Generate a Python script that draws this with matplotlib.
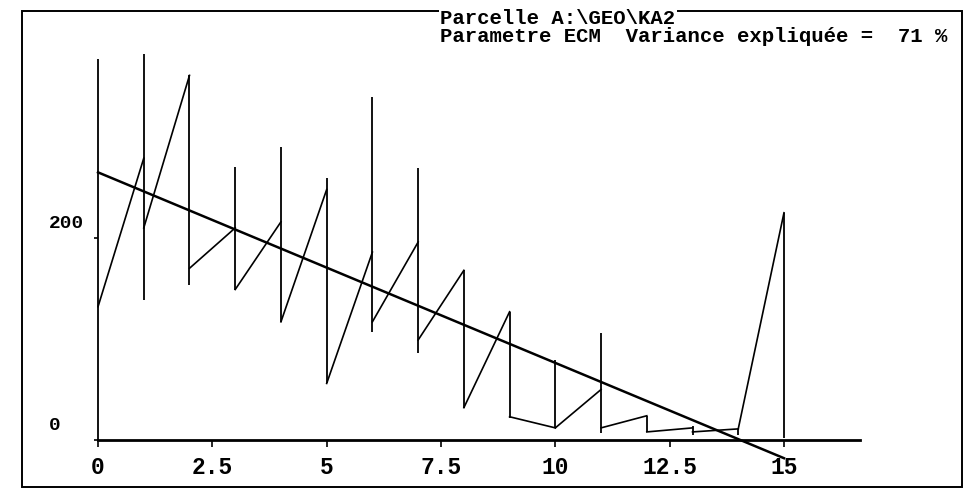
import matplotlib
matplotlib.use("Agg")
import matplotlib.pyplot as plt
from matplotlib.patches import Rectangle
from matplotlib.transforms import ScaledTranslation

# ---- data ----
positions = [0, 1, 2, 3, 4, 5, 6, 7, 8, 9, 10, 11, 12, 13, 14, 15]
range_high = [377, 382, 361, 270, 290, 259, 340, 269, 168, 127, 79, 106, 24, 14, 11, 225]
range_low = [0, 139, 153, 149, 117, 56, 107, 86, 32, 22, 12, 7, 8, 5, 5, 2]
# segment from x=i (value seg_start[i]) to x=i+1 (value seg_end[i])
seg_start = [132, 210, 170, 149, 117, 56, 117, 99, 32, 23, 12, 12, 8, 8, 11]
seg_end = [279, 361, 210, 216, 248, 186, 196, 168, 127, 12, 50, 24, 12, 11, 225]
reg_x = [0, 15]
reg_y = [265, -18]
x_ticks = [0, 2.5, 5, 7.5, 10, 12.5, 15]
x_tick_labels = ["0", "2.5", "5", "7.5", "10", "12.5", "15"]
y_ticks = [0, 200]
y_tick_labels = ["0", "200"]
title_line1 = "Parcelle A:\\GEO\\KA2"
title_line2 = "Parametre ECM  Variance expliquée =  71 %"

plt.rcParams['font.family'] = ['Liberation Mono', 'DejaVu Sans Mono']
plt.rcParams['font.weight'] = 'bold'

W, H = 970, 492
fig = plt.figure(figsize=(W / 100, H / 100), dpi=100)

# axes placement (pixel based)
ax_left_px, ax_right_px = 52.3, 898.3
ax_top_px, ax_bot_px = 15.8, 470.3
ax = fig.add_axes([ax_left_px / W, 1 - ax_bot_px / H,
                   (ax_right_px - ax_left_px) / W, (ax_bot_px - ax_top_px) / H])
ax.set_xlim(-1, 17.5)
ax.set_ylim(-30, 420)
ax.patch.set_alpha(0)

lc = 'black'
ax.vlines(positions, range_low, range_high, color=lc, lw=1.3, clip_on=False)
for i in range(len(seg_start)):
    ax.plot([positions[i], positions[i + 1]], [seg_start[i], seg_end[i]],
            color=lc, lw=1.2, clip_on=False)
ax.plot(reg_x, reg_y, color=lc, lw=1.8, clip_on=False)

for s in ['top', 'right']:
    ax.spines[s].set_visible(False)
ax.spines['bottom'].set_position(('data', 0))
ax.spines['bottom'].set_bounds(0, 16.66)
ax.spines['bottom'].set_linewidth(2)
ax.spines['left'].set_position(('data', 0))
ax.spines['left'].set_visible(False)

ax.set_xticks(x_ticks)
ax.set_xticklabels(x_tick_labels)
ax.tick_params(axis='x', direction='out', length=5, width=1.2, pad=6.5,
               labelsize=16.5)
ax.set_yticks(y_ticks)
ax.set_yticklabels(y_tick_labels)
ax.tick_params(axis='y', direction='out', length=3, width=1.2, pad=0,
               labelsize=14)
for lab in ax.get_yticklabels():
    lab.set_ha('left')
    lab.set_transform(lab.get_transform() +
                      ScaledTranslation(-45 / 100, 16 / 100, fig.dpi_scale_trans))

# outer frame
fl, ft, fr, fb = 22, 11, 962, 487
fig.patches.append(Rectangle((fl / W, 1 - fb / H), (fr - fl) / W, (fb - ft) / H,
                             transform=fig.transFigure, fill=False,
                             edgecolor='black', lw=1.4, zorder=1))

fig.text(440 / W, 1 - 19 / H, title_line1, ha='left', va='center', fontsize=14.9,
         fontweight='bold', zorder=5,
         bbox=dict(facecolor='white', edgecolor='none', pad=1))
fig.text(440 / W, 1 - 37 / H, title_line2, ha='left', va='center', fontsize=14.9,
         fontweight='bold', zorder=5)

fig.savefig('out.png', dpi=100, facecolor='white')
